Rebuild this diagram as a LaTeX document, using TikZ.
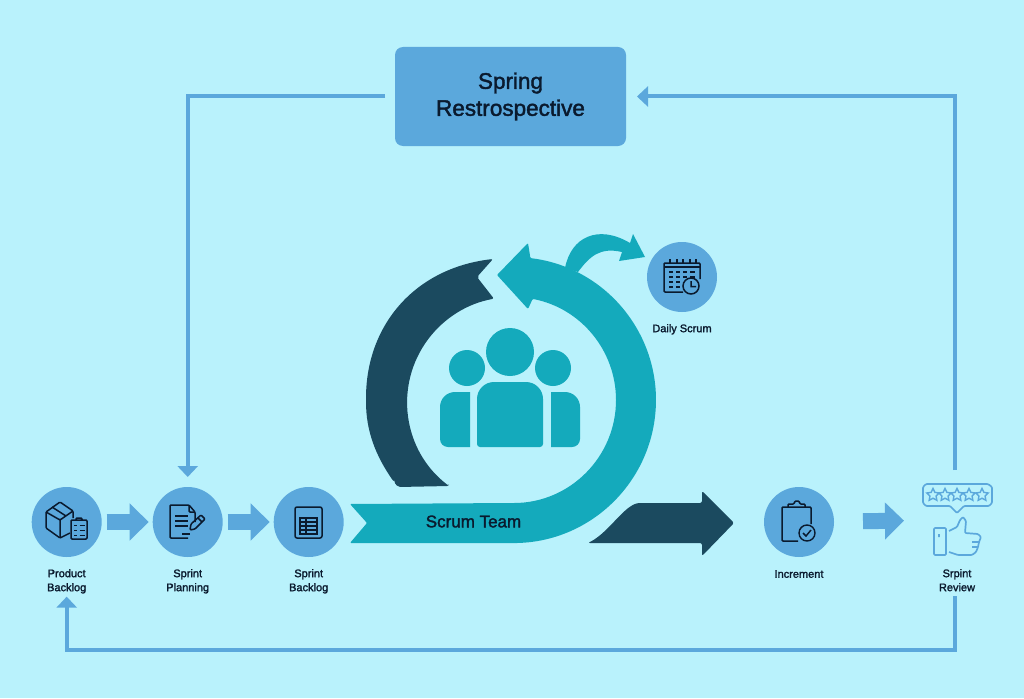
\documentclass[tikz,border=0pt]{standalone}
\usepackage{fontspec}
\usetikzlibrary{positioning,calc,arrows.meta,shapes.geometric}
\newfontfamily\labelfont{Liberation Sans}[AutoFakeBold=1.8]
\definecolor{skybg}{HTML}{B9F2FC}
\definecolor{stepblue}{HTML}{5BA8DC}
\definecolor{ringteal}{HTML}{14AABC}
\definecolor{ringdark}{HTML}{1B4A5F}
\definecolor{inkdark}{HTML}{0A1A2E}
\tikzset{
  stepdisc/.style={circle, fill=stepblue, minimum size=70pt, inner sep=0pt, outer sep=0pt},
  caption/.style={align=center, inner sep=0pt, text=inkdark, font=\labelfont\bfseries\fontsize{11}{14}\selectfont},
  flowline/.style={draw=stepblue, line width=4pt, -{Triangle[length=11pt,width=20pt]}},
  blockarrow/.style={draw=stepblue, line width=16pt, -{Triangle[length=19pt,width=36pt]}},
  iconline/.style={draw=inkdark, line width=1.5pt, line join=round, rounded corners=1pt},
  rateline/.style={draw=stepblue, line width=1.7pt, line join=round, rounded corners=1pt},
}
\begin{document}
\begin{tikzpicture}[x=1pt, y=-1pt, node distance=51pt]
    \useasboundingbox (0,0) rectangle (1024,698);
    \fill[skybg] (0,0) rectangle (1024,698);

    \node (retro) at (510.5,96.5) [fill=stepblue, rounded corners=8pt, minimum width=231pt, minimum height=99pt,
                 inner sep=0pt, outer sep=0pt, align=center, text=inkdark,
                 font=\labelfont\bfseries\fontsize{22.5}{27}\selectfont] {Spring\\Restrospective};

    \node (backlog) at (66.7,522) [stepdisc] {};
    \node (planning) [right=51pt of backlog, stepdisc] {};
    \node (sprint) [right=51pt of planning, stepdisc] {};
    \node (increment) at (799,522) [stepdisc] {};
    \node (daily) at (682,277) [stepdisc] {};
    \node (review) at (957,520) [minimum width=70pt, minimum height=72pt, inner sep=0pt, outer sep=0pt] {};

    \node (backloglabel) [below=12pt of backlog, caption] {Product\\Backlog};
    \node (planninglabel) [below=12pt of planning, caption] {Sprint\\Planning};
    \node (sprintlabel) [below=12pt of sprint, caption] {Sprint\\Backlog};
    \node (incrementlabel) [below=13pt of increment, caption] {Increment};
    \node (dailylabel) [below=12pt of daily, caption] {Daily Scrum};
    \node (reviewlabel) at (957,569) [anchor=north, caption] {Srpint\\Review};
    \coordinate (low) at (510,650);

    \draw[flowline, shorten <=10pt, shorten >=10pt] (retro.west) -| (planning.north);
    \draw[flowline, shorten <=14pt, shorten >=11pt] ([xshift=-2pt]review.north) |- (retro.east);
    \draw[flowline, shorten <=5pt, shorten >=3pt] ([xshift=-2pt]reviewlabel.south) |- (low) -| (backloglabel.south);
    \draw[blockarrow, shorten <=5pt, shorten >=4pt] (backlog) -- (planning);
    \draw[blockarrow, shorten <=5pt, shorten >=4pt] (planning) -- (sprint);
    \draw[blockarrow, shorten <=29pt, shorten >=18pt] (increment) -- (review);

    % scrum ring
    \fill[ringteal] (565,268) .. controls (571,237) and (598,224) .. (630,243) -- (633,234) -- (645,257)
        -- (619,261) -- (622,252) .. controls (600,247) and (590,256) .. (578,272) -- cycle;
    \fill[ringdark, rounded corners=2pt] (394,482) -- (398,487) -- (449,486) -- (449,486)
        arc[start angle=127, end angle=260, radius=105] -- (477,277) -- (493,259)
        .. controls (415,268) and (366,325) .. (366,400) .. controls (366,430) and (375,455) .. (394,482) -- cycle;
    \fill[ringteal, rounded corners=1pt] (350,504) -- (513,503) arc[start angle=90, end angle=-79, radius=103] -- (528,309) -- (497,275)
        -- (528,243) -- (530.4,258.1) arc[start angle=-83, end angle=90, radius=143] -- (350,543) -- (367,523) -- cycle;
    \fill[ringdark, rounded corners=2pt] (588,543) .. controls (610,532) and (625,503) .. (642,503) -- (702,503)
        -- (702,491) -- (734,523) -- (702,556) -- (702,543) -- cycle;
    \node (team) at (473.5,521.5) [caption, font=\labelfont\bfseries\fontsize{17}{18}\selectfont] {Scrum Team};

    % people
    \fill[ringteal] (510,352) circle[radius=24] (467,368) circle[radius=18] (553,368) circle[radius=18];
    \fill[ringteal] [rounded corners=3pt] (477,447) -- (543,447) [rounded corners=17pt] -- (543,382) -- (477,382) [rounded corners=3pt] -- cycle;
    \fill[ringteal] (470,447) [rounded corners=8pt] -- (440,447) [rounded corners=15pt] -- (440,392) [sharp corners] -- (470,392) -- cycle;
    \fill[ringteal] (551,447) [rounded corners=8pt] -- (580,447) [rounded corners=15pt] -- (580,392) [sharp corners] -- (551,392) -- cycle;

    % product backlog icon
    \draw[iconline] (73,518) -- (73,511) -- (60,502) -- (46,512) -- (46,528) -- (60,538) -- (70,533);
    \draw[iconline] (46,512) -- (60,520) -- (73,511) (60,520) -- (60,538) (52,507) -- (66,516);
    \draw[iconline] (71,520) rectangle (87,539) (76,520) -- (76,518) -- (82,518) -- (82,520);
    \foreach \rowy in {525,530,535} {
        \draw[inkdark, line width=1pt] (74,\rowy) -- (77,\rowy) (79.5,\rowy) -- (84.5,\rowy);
    }

    % sprint planning icon
    \draw[iconline] (188,538) -- (170,538) -- (170,505) -- (189,505) -- (195,512) -- (195,522);
    \draw[iconline] (189,505) -- (189,512) -- (195,512);
    \foreach \rowy in {516,521,526} {
        \draw[inkdark, line width=1.5pt] (175,\rowy) -- (188,\rowy);
    }
    \draw[inkdark, line width=1.5pt] (182,534) -- (190,534);
    \draw[iconline] (190,530) -- (191,524) -- (201,515) -- (205,519) -- (195,529) -- cycle (198,518) -- (202,522);

    % sprint backlog icon
    \draw[iconline, rounded corners=2pt] (295,507) rectangle (322,538);
    \draw[inkdark, line width=1.2pt] (300,518) rectangle (317,534) (306,518) -- (306,534);
    \foreach \rowy in {522,526,530} {
        \draw[inkdark, line width=1.2pt] (300,\rowy) -- (317,\rowy);
    }

    % increment icon
    \draw[iconline] (798,541) -- (782,541) -- (782,507) -- (811,507) -- (811,524);
    \draw[iconline] (788,507) -- (788,504) -- (794,504) -- (795,501) -- (799,501) -- (800,504) -- (805,504) -- (805,507);
    \draw[inkdark, line width=1.4pt] (807,533) circle[radius=8];
    \draw[inkdark, line width=1.5pt] (803,533) -- (806,536) -- (811,530);

    % daily scrum icon
    \draw[iconline] (683,292) -- (664,292) -- (664,263) -- (700,263) -- (700,279);
    \draw[inkdark, line width=1.4pt] (664,267) -- (700,267);
    \foreach \ringx in {670,677,683,690,696} {
        \draw[inkdark, line width=1.4pt] (\ringx,259) -- (\ringx,264);
    }
    \foreach \rowy in {272,277,282,287} {
        \draw[inkdark, line width=2.2pt] (669,\rowy) -- (673,\rowy) (676,\rowy) -- (680,\rowy);
    }
    \foreach \rowy in {272,277} {
        \draw[inkdark, line width=2.2pt] (683,\rowy) -- (687,\rowy) (690,\rowy) -- (695,\rowy);
    }
    \fill[stepblue] (691,286) circle[radius=8];
    \draw[inkdark, line width=1.5pt] (691,286) circle[radius=8] (691,281) -- (691,286.5) -- (696,286.5);

    % review icon
    \draw[rateline] (950,506) -- (926,506) -- (923,503) -- (923,487) -- (926,484) -- (988,484) -- (992,487) -- (992,503)
        -- (989,506) -- (964,506) -- (957,513) -- cycle;
    \foreach \starx in {933,945,957,969,982} {
        \node (star\starx) at (\starx,495) [star, star points=5, star point ratio=2, draw=stepblue, line width=1.4pt,
            minimum size=13pt, inner sep=0pt] {};
    }
    \draw[rateline] (934,528) rectangle (946,555) (939,534) -- (939,537);
    \draw[rateline] (949,531) -- (957,527) -- (960,520) -- (963,517) -- (966,521) -- (965,533) -- (978,534) -- (981,537)
        -- (979,542) -- (978,547) -- (976,552) -- (972,555) -- (958,555) -- (949,552);
    \draw[rateline] (979,542) -- (972,542) (978,547) -- (972,547);
\end{tikzpicture}
\end{document}
